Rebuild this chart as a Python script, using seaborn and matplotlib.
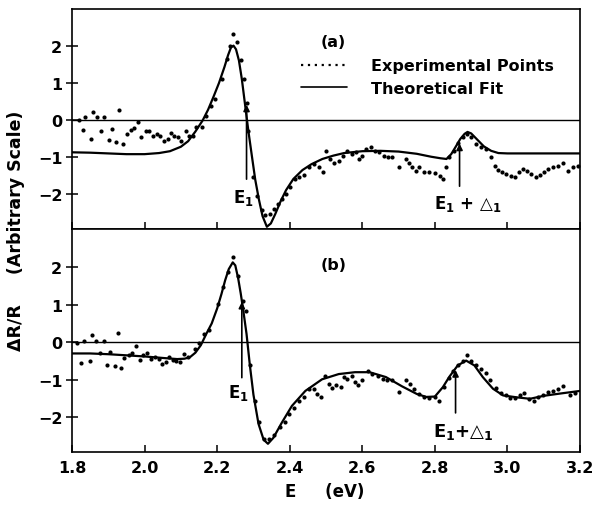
import matplotlib
matplotlib.use("Agg")
import matplotlib.pyplot as plt
from matplotlib.lines import Line2D
import seaborn as sns
import pandas as pd

# experimental points, panel (a)
exp_a_E = [1.819, 1.829, 1.836, 1.852, 1.858, 1.870, 1.879, 1.889, 1.901, 1.910,
           1.921, 1.930, 1.940, 1.951, 1.963, 1.972, 1.981, 1.990, 2.003, 2.012,
           2.023, 2.034, 2.043, 2.053, 2.064, 2.073, 2.082, 2.092, 2.101, 2.113,
           2.122, 2.133, 2.143, 2.157, 2.170, 2.184, 2.195, 2.212, 2.226, 2.235,
           2.244, 2.256, 2.265, 2.274, 2.281, 2.286, 2.300, 2.309, 2.323, 2.332,
           2.346, 2.358, 2.369, 2.380, 2.390, 2.402, 2.415, 2.426, 2.438, 2.452,
           2.466, 2.480, 2.491, 2.499, 2.512, 2.522, 2.535, 2.546, 2.559, 2.571,
           2.582, 2.591, 2.600, 2.611, 2.623, 2.635, 2.646, 2.660, 2.672, 2.683,
           2.702, 2.720, 2.729, 2.738, 2.749, 2.757, 2.771, 2.785, 2.799, 2.813,
           2.822, 2.831, 2.840, 2.854, 2.863, 2.877, 2.888, 2.900, 2.914, 2.928,
           2.942, 2.956, 2.965, 2.974, 2.986, 2.997, 3.009, 3.020, 3.032, 3.043,
           3.055, 3.066, 3.078, 3.089, 3.101, 3.112, 3.126, 3.140, 3.154, 3.168,
           3.181, 3.195]
exp_a_R = [0.00, -0.28, 0.06, -0.52, 0.20, 0.06, -0.30, 0.06, -0.55, -0.25,
           -0.61, 0.26, -0.66, -0.39, -0.28, -0.22, -0.07, -0.46, -0.30, -0.30,
           -0.44, -0.39, -0.44, -0.57, -0.52, -0.35, -0.44, -0.48, -0.57, -0.30,
           -0.44, -0.44, -0.19, -0.19, 0.10, 0.38, 0.56, 1.10, 1.64, 2.00,
           2.32, 2.09, 1.60, 1.10, 0.45, -0.30, -1.56, -2.05, -2.45, -2.57,
           -2.55, -2.41, -2.28, -2.14, -2.00, -1.83, -1.60, -1.56, -1.50, -1.28,
           -1.20, -1.28, -1.42, -0.84, -1.07, -1.16, -1.11, -0.97, -0.84, -0.93,
           -0.88, -1.07, -0.97, -0.80, -0.74, -0.84, -0.88, -0.97, -1.00, -1.00,
           -1.29, -1.07, -1.18, -1.29, -1.38, -1.29, -1.40, -1.42, -1.45, -1.51,
           -1.60, -1.29, -1.02, -0.84, -0.62, -0.48, -0.39, -0.48, -0.66, -0.75,
           -0.79, -1.02, -1.24, -1.36, -1.42, -1.47, -1.51, -1.54, -1.42, -1.33,
           -1.38, -1.47, -1.56, -1.49, -1.42, -1.33, -1.27, -1.24, -1.18, -1.38,
           -1.29, -1.24]

# theoretical fit, panel (a)
fit_a_E = [1.80, 1.85, 1.90, 1.95, 2.00, 2.04, 2.07, 2.10, 2.12, 2.14,
           2.16, 2.175, 2.19, 2.205, 2.22, 2.23, 2.238, 2.245, 2.252, 2.26,
           2.268, 2.277, 2.286, 2.296, 2.305, 2.315, 2.325, 2.337, 2.348, 2.36,
           2.375, 2.39, 2.41, 2.435, 2.46, 2.49, 2.52, 2.55, 2.60, 2.65,
           2.70, 2.75, 2.79, 2.815, 2.832, 2.845, 2.858, 2.87, 2.882, 2.89,
           2.90, 2.915, 2.935, 2.955, 2.975, 3.00, 3.10, 3.20]
fit_a_R = [-0.88, -0.89, -0.91, -0.93, -0.93, -0.90, -0.85, -0.73, -0.58, -0.32,
           -0.02, 0.27, 0.62, 0.99, 1.42, 1.74, 1.95, 2.00, 1.90, 1.60,
           1.10, 0.40, -0.30, -1.00, -1.62, -2.15, -2.60, -2.89, -2.80, -2.55,
           -2.20, -1.90, -1.60, -1.36, -1.20, -1.06, -0.97, -0.90, -0.85, -0.84,
           -0.86, -0.92, -1.00, -1.04, -1.06, -0.93, -0.72, -0.52, -0.38, -0.33,
           -0.37, -0.52, -0.72, -0.84, -0.90, -0.91, -0.91, -0.91]

# experimental points, panel (b)
exp_b_E = [1.815, 1.824, 1.834, 1.850, 1.855, 1.866, 1.876, 1.887, 1.896, 1.906,
           1.918, 1.928, 1.935, 1.944, 1.956, 1.965, 1.976, 1.987, 1.996, 2.008,
           2.017, 2.029, 2.040, 2.049, 2.058, 2.067, 2.078, 2.087, 2.097, 2.108,
           2.120, 2.138, 2.149, 2.163, 2.177, 2.201, 2.216, 2.230, 2.244, 2.258,
           2.272, 2.279, 2.291, 2.303, 2.314, 2.328, 2.343, 2.358, 2.374, 2.386,
           2.397, 2.411, 2.425, 2.438, 2.454, 2.466, 2.475, 2.487, 2.497, 2.508,
           2.517, 2.528, 2.540, 2.549, 2.559, 2.571, 2.580, 2.589, 2.599, 2.617,
           2.628, 2.642, 2.656, 2.669, 2.683, 2.700, 2.720, 2.731, 2.743, 2.755,
           2.771, 2.785, 2.799, 2.811, 2.824, 2.840, 2.851, 2.863, 2.877, 2.888,
           2.900, 2.914, 2.928, 2.942, 2.953, 2.969, 2.983, 2.995, 3.006, 3.020,
           3.034, 3.045, 3.060, 3.072, 3.085, 3.099, 3.112, 3.126, 3.140, 3.154,
           3.172, 3.186]
exp_b_R = [-0.03, -0.55, 0.04, -0.51, 0.18, 0.04, -0.30, 0.02, -0.60, -0.27,
           -0.63, 0.24, -0.68, -0.42, -0.33, -0.30, -0.10, -0.48, -0.33, -0.30,
           -0.45, -0.39, -0.45, -0.58, -0.54, -0.40, -0.48, -0.50, -0.54, -0.32,
           -0.40, -0.18, -0.03, 0.22, 0.33, 1.02, 1.47, 1.87, 2.28, 1.78,
           1.11, 0.84, -0.62, -1.56, -2.14, -2.58, -2.58, -2.47, -2.27, -2.12,
           -1.91, -1.76, -1.56, -1.47, -1.26, -1.24, -1.38, -1.47, -0.89, -1.11,
           -1.22, -1.14, -1.20, -0.93, -0.98, -0.91, -1.07, -1.14, -1.02, -0.76,
           -0.85, -0.89, -0.98, -1.02, -1.02, -1.33, -1.02, -1.11, -1.24, -1.38,
           -1.47, -1.49, -1.47, -1.58, -1.20, -0.95, -0.78, -0.60, -0.51, -0.35,
           -0.49, -0.60, -0.71, -0.82, -1.00, -1.22, -1.36, -1.42, -1.49, -1.49,
           -1.42, -1.36, -1.51, -1.56, -1.45, -1.40, -1.33, -1.29, -1.24, -1.18,
           -1.40, -1.36]

# theoretical fit, panel (b)
fit_b_E = [1.80, 1.85, 1.90, 1.95, 2.00, 2.05, 2.09, 2.11, 2.125, 2.14,
           2.155, 2.17, 2.185, 2.20, 2.212, 2.222, 2.232, 2.243, 2.25, 2.258,
           2.265, 2.272, 2.281, 2.29, 2.30, 2.314, 2.328, 2.34, 2.355, 2.378,
           2.406, 2.443, 2.489, 2.535, 2.58, 2.62, 2.665, 2.71, 2.75, 2.776,
           2.80, 2.822, 2.84, 2.863, 2.886, 2.909, 2.932, 2.96, 2.988, 3.025,
           3.062, 3.10, 3.145, 3.20]
fit_b_R = [-0.30, -0.30, -0.32, -0.35, -0.38, -0.42, -0.45, -0.44, -0.40, -0.28,
           -0.08, 0.22, 0.50, 0.90, 1.29, 1.65, 1.95, 2.13, 2.05, 1.70,
           1.30, 0.85, 0.22, -0.60, -1.40, -2.18, -2.60, -2.71, -2.55, -2.15,
           -1.70, -1.30, -0.99, -0.85, -0.80, -0.80, -0.93, -1.18, -1.38, -1.46,
           -1.45, -1.20, -0.92, -0.62, -0.49, -0.62, -0.93, -1.24, -1.42, -1.47,
           -1.51, -1.43, -1.37, -1.30]

legend_labels = ["Experimental Points", "Theoretical Fit"]
x_ticks = [1.8, 2.0, 2.2, 2.4, 2.6, 2.8, 3.0, 3.2]
y_ticks = [-2, -1, 0, 1, 2]

sns.set_style("ticks")
plt.rcParams['font.family'] = ['DejaVu Sans']
plt.rcParams['font.weight'] = 'bold'
plt.rcParams['mathtext.fontset'] = 'dejavusans'
plt.rcParams['mathtext.default'] = 'bf'
plt.rcParams['axes.linewidth'] = 1.2
for key in ['text.color', 'axes.labelcolor', 'axes.edgecolor', 'xtick.color', 'ytick.color']:
    plt.rcParams[key] = 'black'

fig = plt.figure(figsize=(5.96, 5.06), dpi=100)
ax_a = fig.add_axes([0.1208, 0.5455, 0.8524, 0.4348])
ax_b = fig.add_axes([0.1208, 0.1047, 0.8524, 0.4407])

panels = [
    (ax_a, exp_a_E, exp_a_R, fit_a_E, fit_a_R, (-2.95, 2.99)),
    (ax_b, exp_b_E, exp_b_R, fit_b_E, fit_b_R, (-2.93, 3.02)),
]
for ax, xe, ye, xf, yf, ylim in panels:
    pts = pd.DataFrame({'E': xe, 'R': ye})
    fit = pd.DataFrame({'E': xf, 'R': yf})
    ax.axhline(0, color='k', lw=1.0)
    sns.lineplot(data=fit, x='E', y='R', ax=ax, color='k', lw=1.6, sort=False)
    sns.scatterplot(data=pts, x='E', y='R', ax=ax, color='k', s=9, linewidth=0)
    ax.set_xlim(1.8, 3.2)
    ax.set_ylim(*ylim)
    ax.set_xticks(x_ticks)
    ax.set_yticks(y_ticks)
    ax.set_xlabel('')
    ax.set_ylabel('')
    ax.tick_params(axis='x', direction='in', length=5, width=1.1, labelsize=11.5, pad=6)
    ax.tick_params(axis='y', direction='inout', length=8, width=1.1, labelsize=11.5, pad=3)
    for lab in ax.get_xticklabels() + ax.get_yticklabels():
        lab.set_fontweight('bold')

ax_a.tick_params(axis='x', labelbottom=False)

# panel labels
ax_a.text(0.515, 0.85, "(a)", transform=ax_a.transAxes, ha='center', va='center',
          fontsize=11.5, fontweight='bold')
ax_b.text(0.515, 0.843, "(b)", transform=ax_b.transAxes, ha='center', va='center',
          fontsize=11.5, fontweight='bold')

# legend
handles = [Line2D([], [], color='k', ls=(0, (1, 2.1)), lw=1.6),
           Line2D([], [], color='k', lw=1.2)]
ax_a.legend(handles, legend_labels, loc='upper left', bbox_to_anchor=(0.45, 0.775),
            frameon=False, handlelength=2.9, handletextpad=1.5, labelspacing=0.45,
            borderaxespad=0, borderpad=0, prop={'weight': 'bold', 'size': 11.5})

# arrows
arrow = dict(arrowstyle='-|>', color='k', lw=1.2, mutation_scale=9)
ax_a.annotate('', xy=(2.281, 0.48), xytext=(2.281, -1.68), arrowprops=arrow)
ax_a.text(2.272, -2.1, "E$_1$", ha='center', va='center', fontsize=12)
ax_a.annotate('', xy=(2.868, -0.57), xytext=(2.868, -1.87), arrowprops=arrow)
ax_a.text(2.89, -2.25, "E$_1$ + \u25b3$_1$", ha='center', va='center', fontsize=12)

ax_b.annotate('', xy=(2.268, 1.15), xytext=(2.268, -1.02), arrowprops=arrow)
ax_b.text(2.258, -1.32, "E$_1$", ha='center', va='center', fontsize=12)
ax_b.annotate('', xy=(2.857, -0.67), xytext=(2.857, -1.96), arrowprops=arrow)
ax_b.text(2.878, -2.37, "E$_1$+\u25b3$_1$", ha='center', va='center', fontsize=13)

# axis titles
fig.text(325 / 596, 1 - 492 / 506, "E     (eV)", ha='center', va='center',
         fontsize=12)
fig.text(16 / 596, 1 - 231 / 506, "\u0394R/R     (Arbitrary Scale)", rotation=90,
         ha='center', va='center', fontsize=12.5)

plt.savefig("out.png", dpi=100)
